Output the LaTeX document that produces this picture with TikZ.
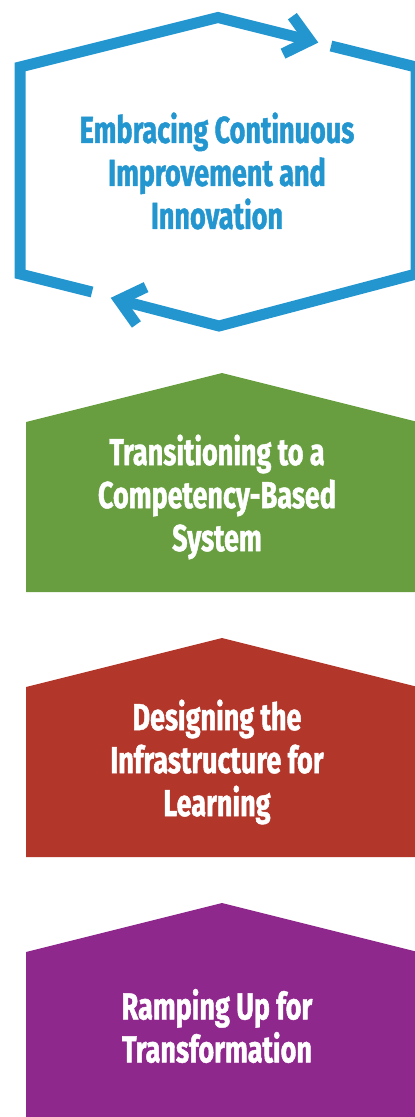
\documentclass[tikz,border=0pt]{standalone}
\usepackage{fontspec}
\setmainfont{Fira Sans}[FakeStretch=0.72, BoldFeatures={FakeBold=1.2}]
\usetikzlibrary{calc}
\definecolor{cblue}{RGB}{35,150,208}
\definecolor{cgreen}{RGB}{104,158,64}
\definecolor{cred}{RGB}{178,54,42}
\definecolor{cpurple}{RGB}{143,40,140}
\tikzset{
  ring/.style={draw=cblue, line width=11pt, line join=miter, line cap=butt},
  label/.style={align=center, font=\bfseries\fontsize{37.5}{43}\selectfont, inner sep=0pt},
}
\begin{document}
\begin{tikzpicture}[x=1pt,y=-1pt]
\useasboundingbox (0,0) rectangle (415,1117);
\clip (0,0) rectangle (415,1117);
% filled house shapes
\fill[cgreen]  (26,592) -- (26,422) -- (222,373) -- (418,422) -- (418,592) -- cycle;
\fill[cred]    (26,857) -- (26,687) -- (222,638) -- (418,687) -- (418,857) -- cycle;
\fill[cpurple] (26,1122) -- (26,952) -- (222,903) -- (418,952) -- (418,1122) -- cycle;
% cycle ring
\coordinate (ta) at (218,17.5);
\coordinate (ba) at (219,326);
\coordinate (t1) at (310,40.5);
\coordinate (t2) at (119,300);
\draw[ring] (92,292) -- (20,274) -- (20,67) -- (ta) -- (t1);
\draw[ring] (331,46) -- (416,67) -- (416,274) -- (ba) -- (t2);
\draw[ring] ($(t1)!30pt!40:(ta)$) -- (t1) -- ($(t1)!30pt!-40:(ta)$);
\draw[ring] ($(t2)!30pt!40:(ba)$) -- (t2) -- ($(t2)!30pt!-40:(ba)$);
% labels
\node[label, text=cblue] (n1) at (217,171) {Embracing Continuous\\Improvement and\\Innovation};
\node[label, text=white] (n2) at (217,497) {Transitioning to a\\Competency-Based\\System};
\node[label, text=white] (n3) at (217,762) {Designing the\\Infrastructure for\\Learning};
\node[label, text=white] (n4) at (217,1026) {Ramping Up for\\Transformation};
\end{tikzpicture}
\end{document}
